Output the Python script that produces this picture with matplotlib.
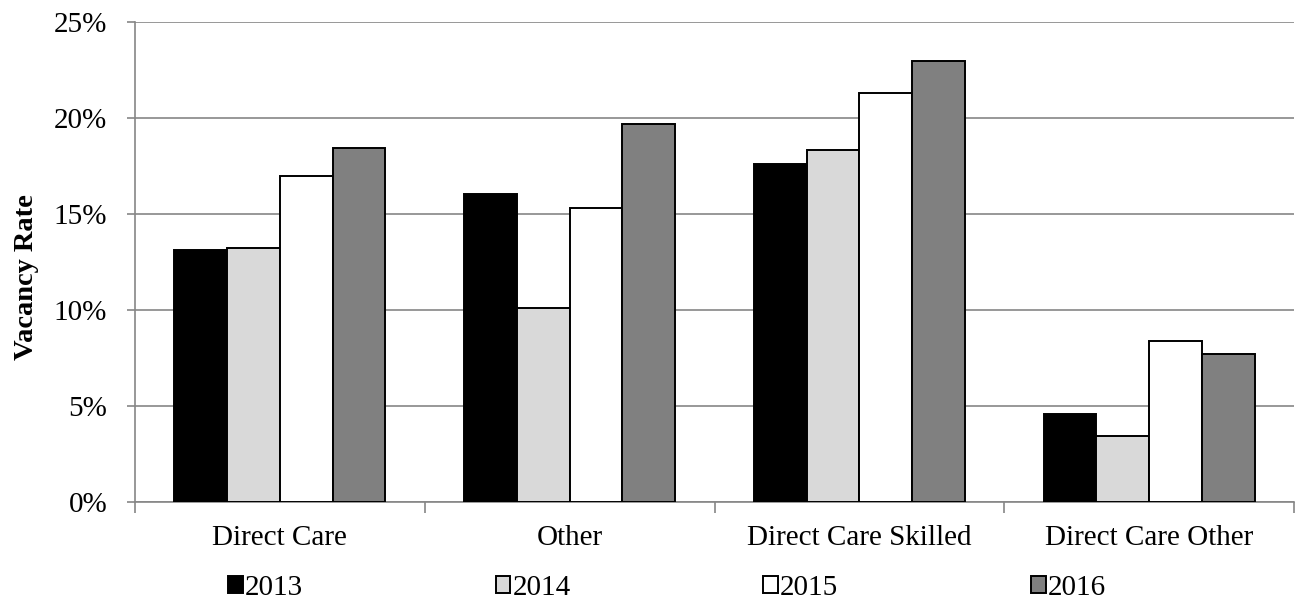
import matplotlib
matplotlib.use("Agg")
import matplotlib.pyplot as plt
import numpy as np
from matplotlib.ticker import FuncFormatter, MultipleLocator

plt.rcParams['font.family'] = ['Liberation Serif', 'DejaVu Serif']

categories = ["Direct Care", "Other", "Direct Care Skilled", "Direct Care Other"]
years = ["2013", "2014", "2015", "2016"]
rate_2013 = [13.1, 16.05, 17.6, 4.55]
rate_2014 = [13.2, 10.1, 18.35, 3.4]
rate_2015 = [16.95, 15.3, 21.3, 8.4]
rate_2016 = [18.45, 19.7, 22.95, 7.7]
series = [rate_2013, rate_2014, rate_2015, rate_2016]
fills = ["#000000", "#d9d9d9", "#ffffff", "#808080"]

FS = 21

fig = plt.figure(figsize=(12.96, 6.0), dpi=100)
ax = fig.add_axes([0.1042, 0.1638, 0.8943, 0.7995])

n = len(categories)
x = np.arange(n)
bar_w = 0.182
offsets = (np.arange(4) - 1.5) * bar_w
for vals, color, yr, off in zip(series, fills, years, offsets):
    ax.bar(x + off, vals, width=bar_w, color=color, edgecolor="black",
           linewidth=1.4, label=yr, zorder=3)

ax.set_xlim(-0.5, n - 0.5)
ax.set_ylim(0, 25)
ax.yaxis.set_major_locator(MultipleLocator(5))
ax.yaxis.set_major_formatter(FuncFormatter(lambda v, p: f"{v:.0f}%"))
ax.grid(axis="y", color="#868686", linewidth=1.2, zorder=0)
ax.set_axisbelow(True)

for s in ["top", "right"]:
    ax.spines[s].set_visible(False)
for s in ["left", "bottom"]:
    ax.spines[s].set_color("#868686")
    ax.spines[s].set_linewidth(1.2)

ax.set_xticks(x)
ax.set_xticklabels(categories, fontsize=FS)
ax.tick_params(axis="x", length=0, pad=17)
ax.set_xticks(np.arange(n + 1) - 0.5, minor=True)
ax.tick_params(axis="x", which="minor", length=8, width=1.2, color="#868686")
ax.tick_params(axis="y", labelsize=FS, length=6, width=1.2, color="#868686", pad=14)

ax.set_ylabel("Vacancy Rate", fontsize=20.5, fontweight="bold")
ax.yaxis.set_label_coords(-0.083, 0.468)

fig.legend(loc="center left", bbox_to_anchor=(0.1759, 0.02), ncol=4, frameon=False,
           fontsize=FS, handlelength=0.51, handleheight=0.51, handletextpad=0.07,
           columnspacing=6.6, borderpad=0, borderaxespad=0)

fig.savefig("out.png", dpi=100)
